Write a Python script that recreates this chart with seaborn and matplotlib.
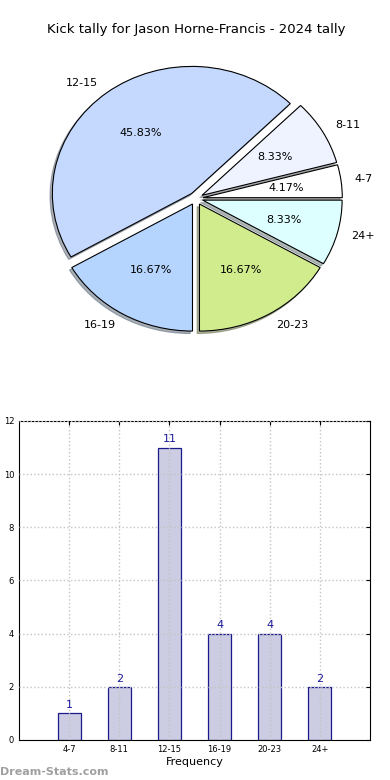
import seaborn as sns
import matplotlib.pyplot as plt

# datos del gráfico
categorias = ['4-7', '8-11', '12-15', '16-19', '20-23', '24+']
conteos = [1, 2, 11, 4, 4, 2]
colores_pie = ['#ffffff', '#eef3ff', '#c5d9ff', '#b5d5ff', '#d1ec8c', '#ddffff']
titulo = 'Kick tally for Jason Horne-Francis - 2024 tally'

sns.set_style('white')
plt.rcParams['font.family'] = ['DejaVu Sans']
plt.rcParams['text.color'] = 'black'
plt.rcParams['xtick.color'] = 'black'
plt.rcParams['ytick.color'] = 'black'
plt.rcParams['axes.labelcolor'] = 'black'

fig = plt.figure(figsize=(3.9, 7.8), dpi=100)

# 1. Pie (elíptico, sin aspect igual)
ax1 = fig.add_axes([0.045, 0.537, 0.915, 0.417])
wedges, textos, pcts = ax1.pie(conteos, labels=categorias, colors=colores_pie,
                               explode=[0.05] * len(conteos), autopct='%1.2f%%',
                               startangle=0,
                               shadow={'ox': -0.012, 'oy': -0.014, 'shade': 0.55},
                               wedgeprops={'edgecolor': 'black', 'linewidth': 0.8},
                               textprops={'fontsize': 8})
ax1.set_aspect('auto')
ax1.set_xlim(-1.28, 1.28)
ax1.set_ylim(-1.28, 1.28)
ax1.set_title(titulo, fontsize=9.5, pad=1.5)

# 2. Barras
ax2 = fig.add_axes([0.0487, 0.0513, 0.9, 0.409])
sns.barplot(x=categorias, y=conteos, ax=ax2, width=0.46, color='#ccccE2',
            saturation=1, edgecolor='#1a1a8c', linewidth=0.9)
for i, v in enumerate(conteos):
    ax2.text(i, v + 0.12, str(v), ha='center', va='bottom', fontsize=8, color='#1a1a9c')
ax2.set_xlim(-1, 6)
ax2.set_ylim(0, 12)
ax2.set_yticks(range(0, 13, 2))
ax2.grid(True, linestyle=':', color='#c4c4c4', linewidth=1)
ax2.set_axisbelow(False)
ax2.tick_params(axis='both', labelsize=6, direction='in', top=True, right=True, length=3)
for s in ax2.spines.values():
    s.set_color('black')
    s.set_linewidth(0.8)
ax2.set_xlabel('Frequency', fontsize=8, labelpad=2)
ax2.set_ylabel('Stat Count', fontsize=8)
ax2.yaxis.set_label_coords(-0.063, 0.5)

fig.text(0.0, 0.007, 'Dream-Stats.com', fontsize=8, color='#a0a0a0', fontweight='semibold')

fig.savefig('out.png', dpi=100)
